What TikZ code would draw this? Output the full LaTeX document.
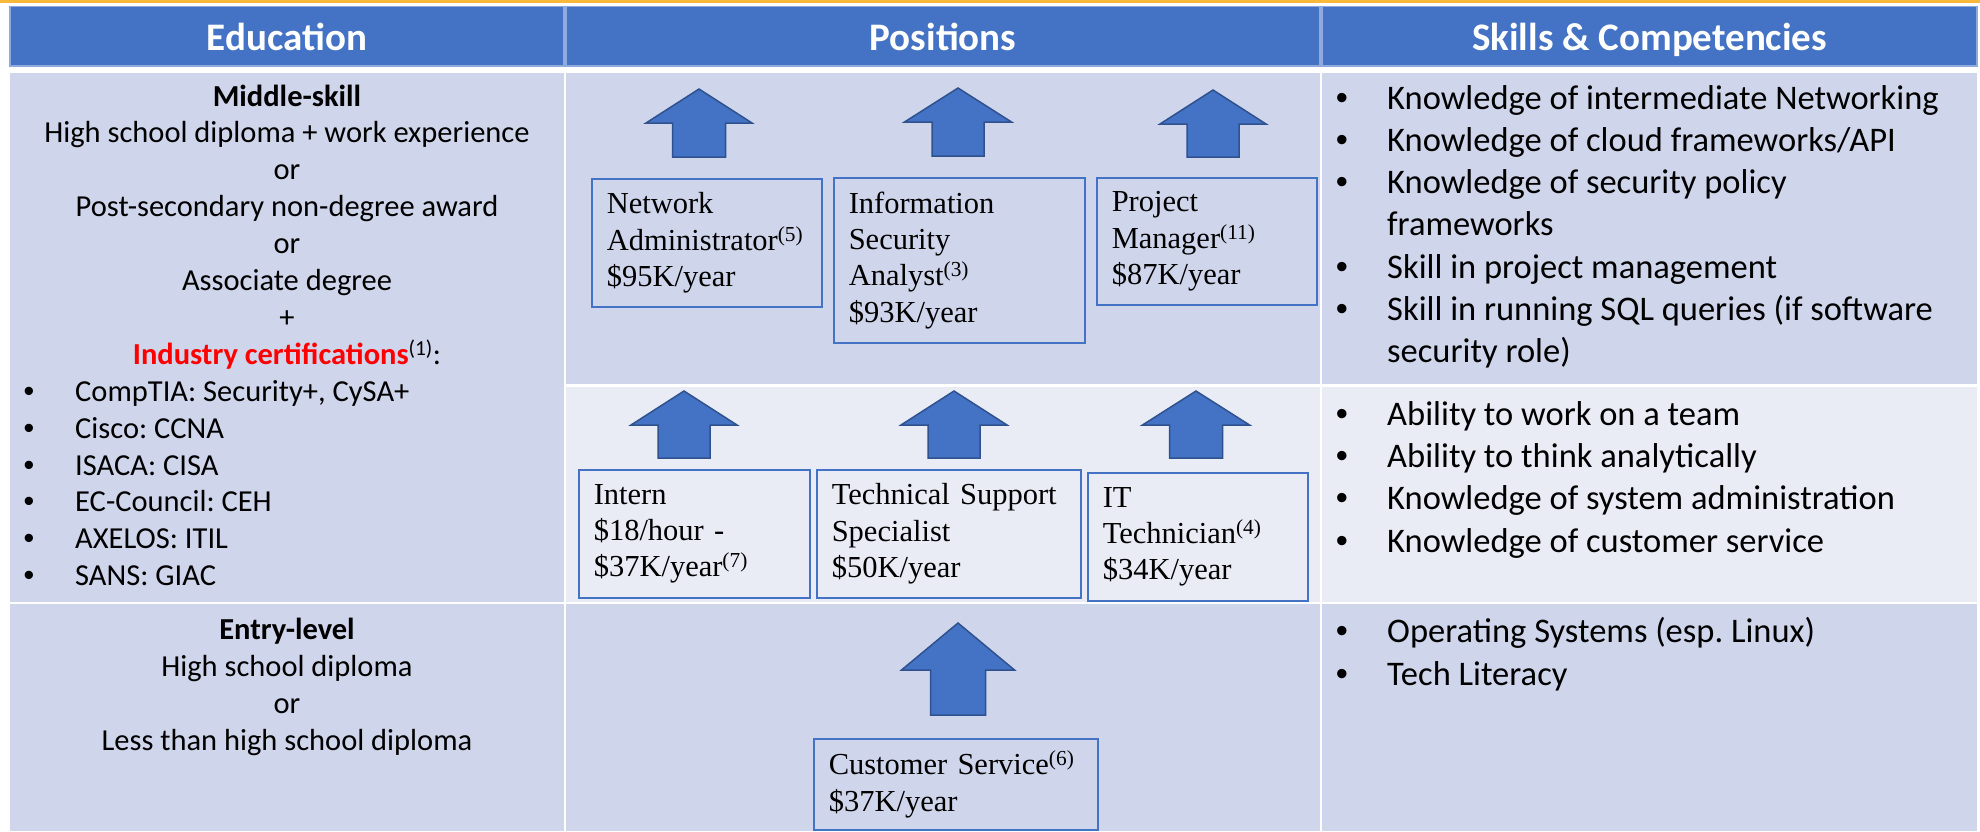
\documentclass[tikz,border=0pt]{standalone}
\usepackage{fontspec}
\setmainfont{Carlito}
\newfontfamily\tnr{Liberation Serif}
\newfontfamily\arl{Liberation Sans}
\usepackage{tikz}

\definecolor{hdrblue}{HTML}{4472C4}
\definecolor{hdredge}{HTML}{8FAADC}
\definecolor{celldark}{HTML}{CFD5EA}
\definecolor{celllight}{HTML}{E9EBF5}
\definecolor{arrowedge}{HTML}{2F528F}
\definecolor{topgold}{HTML}{F8B93A}

\newcommand{\blockup}[6]{%
  \draw[blockarrow] (#1,#2) -- (#1+#3,#2+#5) -- (#1+#4,#2+#5) -- (#1+#4,#2+#6)
    -- (#1-#4,#2+#6) -- (#1-#4,#2+#5) -- (#1-#3,#2+#5) -- cycle;}
\newcommand{\bul}{{\arl\textbullet}}

\begin{document}
\frenchspacing
\begin{tikzpicture}[x=1pt, y=-1pt,
    hdrcell/.style = {fill=hdrblue, draw=hdredge, line width=1.5pt},
    darkcell/.style = {fill=celldark},
    lightcell/.style = {fill=celllight},
    hdrtxt/.style = {anchor=base, inner sep=0pt, text=white,
      font=\fontsize{39}{47}\selectfont\bfseries},
    edutxt/.style = {anchor=base, inner sep=0pt,
      font=\fontsize{30.5}{37}\selectfont},
    skilltxt/.style = {anchor=base west, inner sep=0pt,
      font=\fontsize{34.5}{42}\selectfont},
    posbox/.style 2 args = {draw=hdrblue, line width=1.5pt, anchor=north west,
      align=left, inner xsep=15pt, inner ysep=0pt, text width=#1,
      minimum height=#2, font=\tnr\fontsize{30.5}{36.4}\selectfont},
    blockarrow/.style = {fill=hdrblue, draw=arrowedge, line width=1.5pt}]

  \useasboundingbox (0,0) rectangle (1980,831);
  \fill[topgold] (0,0) rectangle (1980,3);

  \draw[hdrcell] (10,6.5) rectangle (564,66);
  \draw[hdrcell] (566,6.5) rectangle (1320,66);
  \draw[hdrcell] (1322,6.5) rectangle (1977,66);
  \fill[darkcell] (10,73) rectangle (564,602);
  \fill[darkcell] (566,73) rectangle (1320,384);
  \fill[darkcell] (1322,73) rectangle (1977,384);
  \fill[lightcell] (566,387) rectangle (1320,602);
  \fill[lightcell] (1322,387) rectangle (1977,602);
  \fill[darkcell] (10,604) rectangle (564,831);
  \fill[darkcell] (566,604) rectangle (1320,831);
  \fill[darkcell] (1322,604) rectangle (1977,831);

  \node[hdrtxt] (hedu) at (287,50) {Education};
  \node[hdrtxt] (hpos) at (943,50) {Positions};
  \node[hdrtxt] (hskill) at (1649.5,50) {Skills \& Competencies};

  \foreach \ln [count=\k from 0] in {\textbf{Middle-skill},
      High school diploma + work experience, or,
      Post-secondary non-degree award, or, Associate degree, +,
      {\textcolor{red}{\textbf{Industry certifications}}\textsuperscript{(1)}:}}
    \node[edutxt] (edu-\k) at (287,106+36.9*\k) {\ln};
  \foreach \ln [count=\k from 8] in {{CompTIA: Security+, CySA+}, Cisco: CCNA,
      ISACA: CISA, EC-Council: CEH, AXELOS: ITIL, SANS: GIAC} {
    \node[edutxt] (certb-\k) at (29,106+36.9*\k) {\bul};
    \node[edutxt, anchor=base west] (cert-\k) at (75,106+36.9*\k) {\ln};
  }
  \foreach \ln [count=\k from 0] in {\textbf{Entry-level}, High school diploma,
      or, Less than high school diploma}
    \node[edutxt] (entry-\k) at (287,639.3+37*\k) {\ln};

  \foreach \ln [count=\k from 0] in {Knowledge of intermediate Networking,
      Knowledge of cloud frameworks/API, Knowledge of security policy,
      frameworks, Skill in project management,
      Skill in running SQL queries (if software, security role)}
    \node[skilltxt] (ska-\k) at (1387,109.3+42.2*\k) {\ln};
  \foreach \k in {0,1,2,4,5}
    \node[skilltxt, anchor=base] (skab-\k) at (1342,109.3+42.2*\k) {\bul};
  \foreach \ln [count=\k from 0] in {Ability to work on a team,
      Ability to think analytically, Knowledge of system administration,
      Knowledge of customer service} {
    \node[skilltxt, anchor=base] (skbb-\k) at (1342,425+42.4*\k) {\bul};
    \node[skilltxt] (skb-\k) at (1387,425+42.4*\k) {\ln};
  }
  \foreach \ln [count=\k from 0] in {Operating Systems (esp. Linux), Tech Literacy} {
    \node[skilltxt, anchor=base] (skcb-\k) at (1342,642.7+42.3*\k) {\bul};
    \node[skilltxt] (skc-\k) at (1387,642.7+42.3*\k) {\ln};
  }

  \node[posbox={200pt}{128pt}] (netadm) at (591,178)
    {Network\\Administrator\textsuperscript{(5)}\\\$95K/year};
  \node[posbox={221pt}{165pt}] (infosec) at (833,177)
    {Information\\Security\\Analyst\textsuperscript{(3)}\\\$93K/year};
  \node[posbox={190pt}{127pt}] (projmgr) at (1096,177)
    {Project\\Manager\textsuperscript{(11)}\\\$87K/year};
  \node[posbox={201pt}{128pt}] (intern) at (578,469)
    {Intern\\\$18/hour -\\\$37K/year\textsuperscript{(7)}};
  \node[posbox={234pt}{128pt}] (techsup) at (816,469)
    {Technical Support\\Specialist\\\$50K/year};
  \node[posbox={190pt}{128pt}] (ittech) at (1087,472)
    {IT\\Technician\textsuperscript{(4)}\\\$34K/year};
  \node[posbox={254pt}{91pt}] (custsvc) at (813,738)
    {Customer Service\textsuperscript{(6)}\\\$37K/year};

  \blockup{699}{89}{53}{26.5}{34}{68}
  \blockup{958}{88}{53.5}{26}{34}{68}
  \blockup{1213}{90}{53}{26}{34}{67}
  \blockup{684}{391}{53}{26}{34}{67}
  \blockup{954}{391}{53}{26}{34}{67}
  \blockup{1196}{391}{53.5}{26.5}{34}{67}
  \blockup{958}{623}{56.5}{27.5}{47}{92}
\end{tikzpicture}
\end{document}
